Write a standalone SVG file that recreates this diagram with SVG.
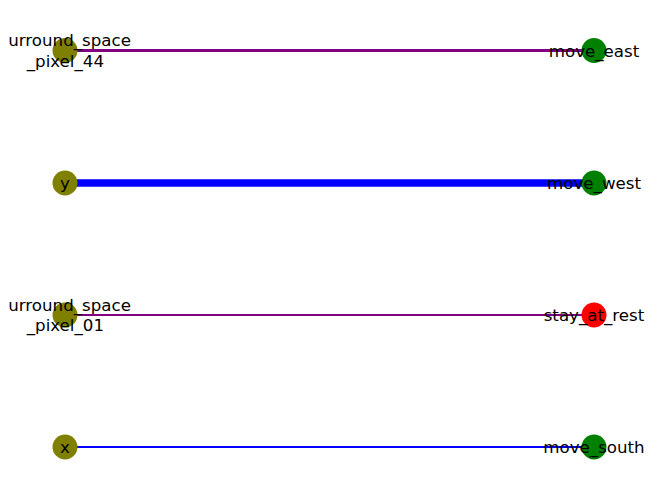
<svg xmlns="http://www.w3.org/2000/svg" width="660" height="499" viewBox="0 0 660 499">
<style>
  .lbl { font-family: "DejaVu Sans", sans-serif; font-size: 16.67px; fill: #000; text-anchor: middle; }
  .olive { fill: #808000; }
  .green { fill: #008000; }
  .red { fill: #ff0000; }
  .purple { stroke: #800080; fill: none; }
  .blue { stroke: #0000ff; fill: none; }
</style>
<rect width="660" height="499" fill="#ffffff"/>
<g id="connectors">
  <line class="purple" x1="65" y1="50.5" x2="594" y2="50.5" stroke-width="2.8"/>
  <line class="blue" x1="65" y1="183" x2="594" y2="183" stroke-width="7.3"/>
  <line class="purple" x1="65" y1="315" x2="594" y2="315" stroke-width="2"/>
  <line class="blue" x1="65" y1="447" x2="594" y2="447" stroke-width="2"/>
</g>
<g id="node-urround_space_pixel_44">
  <circle class="olive" cx="65" cy="50.5" r="12.5"/>
  <text class="lbl" x="69.6" y="46"><tspan x="69.6">urround_space</tspan><tspan x="65.4" dy="20.5">_pixel_44</tspan></text>
</g>
<g id="node-y">
  <circle class="olive" cx="65" cy="183" r="12.5"/>
  <text class="lbl" x="65" y="189">y</text>
</g>
<g id="node-urround_space_pixel_01">
  <circle class="olive" cx="65" cy="315" r="12.5"/>
  <text class="lbl" x="69.6" y="310.7"><tspan x="69.6">urround_space</tspan><tspan x="65.4" dy="20.5">_pixel_01</tspan></text>
</g>
<g id="node-x">
  <circle class="olive" cx="65" cy="447" r="12.5"/>
  <text class="lbl" x="65" y="453">x</text>
</g>
<g id="node-move_east">
  <circle class="green" cx="594" cy="50.5" r="12.5"/>
  <text class="lbl" x="594" y="57">move_east</text>
</g>
<g id="node-move_west">
  <circle class="green" cx="594" cy="183" r="12.5"/>
  <text class="lbl" x="594" y="189">move_west</text>
</g>
<g id="node-stay_at_rest">
  <circle class="red" cx="594" cy="315" r="12.5"/>
  <text class="lbl" x="594" y="321">stay_at_rest</text>
</g>
<g id="node-move_south">
  <circle class="green" cx="594" cy="447" r="12.5"/>
  <text class="lbl" x="594" y="453">move_south</text>
</g>
</svg>
